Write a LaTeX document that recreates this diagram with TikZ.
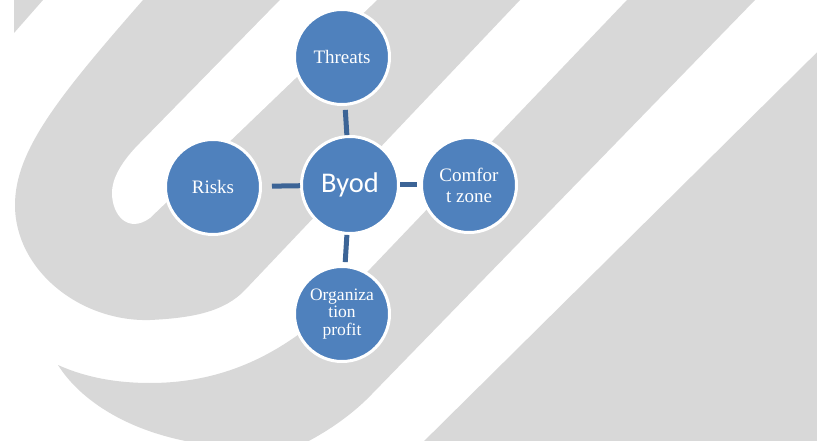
\documentclass[tikz,border=0pt]{standalone}
\usepackage{fontspec}
\setmainfont{Liberation Serif}
\newfontfamily\calibrifont{Carlito}
\definecolor{bggray}{RGB}{216,216,216}
\definecolor{nodeblue}{RGB}{79,129,189}
\definecolor{linkblue}{RGB}{60,100,150}
\begin{document}
\begin{tikzpicture}[x=1pt,y=-1pt,
  bubble/.style={circle, fill=nodeblue, draw=white, line width=3pt, minimum size=95pt,
    inner sep=0pt, text=white, align=center, font=\fontsize{19}{21}\selectfont},
  hub/.style={bubble, minimum size=97pt, font=\calibrifont\fontsize{28.5}{30}\selectfont},
  conn/.style={draw=linkblue, line width=5pt}]
\useasboundingbox (0,0) rectangle (817,441);
\begin{scope}
  \clip (0,0) rectangle (817,441);
  \fill[white] (0,0) rectangle (817,441);
  % small top-left band end
  \fill[bggray] (14,0) -- (43,0) -- (14,33) -- cycle;
  % large hook band
  \fill[bggray] (143,0) .. controls (60,95) and (15,150) .. (15,205)
     .. controls (15,270) and (80,322) .. (150,320)
     .. controls (192,318) and (224,312) .. (245,290) -- (520,0) -- cycle;
  % white stripe inside the hook with round tip
  \fill[white] (280,0) -- (140,143) .. controls (122,161) and (112,178) .. (112,193)
     .. controls (112,215) and (128,234) .. (150,218) -- (377,0) -- cycle;
  % lower band
  \fill[bggray] (627,0) -- (350,290) .. controls (300,340) and (240,383) .. (150,383)
     .. controls (110,383) and (80,375) .. (58,365)
     .. controls (80,400) and (130,435) .. (210,445) -- (290,450)
     .. controls (320,437) and (350,417) .. (372,394) -- (755,0) -- cycle;
  % right region
  \fill[bggray] (880,-10) -- (410,455) -- (880,455) -- cycle;
\end{scope}
\node[bubble] (threats) at (342,57) {Threats};
\node[bubble] (risks) at (213,187) {Risks};
\node[hub] (byod) at (350,185) {Byod};
\node[bubble] (comfort) at (469,185) {Comfor\\t zone};
\node[bubble, font=\fontsize{17.5}{17.5}\selectfont] (org) at (342,314) {Organiza\\tion\\profit};
\draw[conn, shorten <=4pt] (threats) -- (byod);
\draw[conn, shorten <=10pt] (risks) -- (byod);
\draw[conn, shorten >=3pt] (byod) -- (comfort);
\draw[conn, shorten >=3pt] (byod) -- (org);
\end{tikzpicture}
\end{document}
